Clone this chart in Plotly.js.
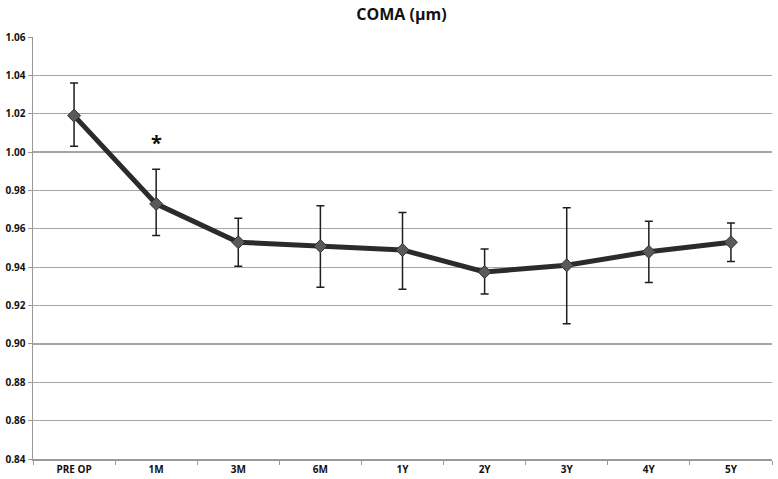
<!DOCTYPE html>
<html>
<head>
<meta charset="utf-8">
<script src="https://cdn.plot.ly/plotly-3.0.1.min.js"></script>
<style>html,body{margin:0;padding:0;background:#fff;}</style>
</head>
<body>
<div id="chart" style="width:778px;height:479px;"></div>
<script>
const categories = ["PRE OP", "1M", "3M", "6M", "1Y", "2Y", "3Y", "4Y", "5Y"];
const meanValues = [1.019, 0.973, 0.953, 0.951, 0.949, 0.9375, 0.941, 0.948, 0.953];
const upperValues = [1.036, 0.991, 0.9655, 0.972, 0.9685, 0.9495, 0.971, 0.964, 0.963];
const lowerValues = [1.003, 0.9565, 0.9405, 0.9295, 0.9285, 0.926, 0.9105, 0.932, 0.943];
const yTicks = [0.84, 0.86, 0.88, 0.90, 0.92, 0.94, 0.96, 0.98, 1.00, 1.02, 1.04, 1.06];

const errPlus = meanValues.map((m, i) => +(upperValues[i] - m).toFixed(4));
const errMinus = meanValues.map((m, i) => +(m - lowerValues[i]).toFixed(4));

const font = "'Open Sans', 'Liberation Sans', sans-serif";

const trace = {
  x: categories,
  y: meanValues,
  type: "scatter",
  mode: "lines+markers",
  line: {color: "#2b2b2b", width: 5},
  marker: {symbol: "diamond", size: 10, color: "#5a5a5a", line: {color: "#333", width: 1}},
  error_y: {type: "data", symmetric: false, array: errPlus, arrayminus: errMinus,
            color: "#1e1e1e", thickness: 1.5, width: 4},
  showlegend: false,
  hoverinfo: "x+y"
};

const layout = {
  width: 778, height: 479,
  margin: {l: 33, r: 6, t: 37, b: 20},
  paper_bgcolor: "#fff", plot_bgcolor: "#fff",
  title: {text: "<b>COMA (µm)</b>", x: 0.516, xanchor: "center", y: 0.97, yanchor: "middle",
          font: {family: font, size: 16, color: "#111"}},
  xaxis: {
    type: "category", categoryorder: "array", categoryarray: categories,
    range: [-0.5, 8.5],
    showgrid: false, zeroline: false,
    showline: true, linecolor: "#9a9a9a", linewidth: 1.5,
    ticks: "outside", tickson: "boundaries", ticklen: 4, tickcolor: "#9a9a9a",
    tickfont: {family: font, size: 10, color: "#111", weight: "bold"}
  },
  yaxis: {
    range: [0.84, 1.06],
    tickvals: yTicks, ticktext: yTicks.map(v => v.toFixed(2)),
    showgrid: true, gridcolor: "#a5a5a5", gridwidth: 1.2,
    zeroline: false,
    showline: true, linecolor: "#9a9a9a", linewidth: 1.5,
    ticks: "outside", ticklen: 4, tickcolor: "#9a9a9a",
    tickfont: {family: font, size: 10, color: "#111", weight: "bold"}
  },
  annotations: [{
    x: "1M", y: 1.005, xref: "x", yref: "y", text: "<b>*</b>", showarrow: false,
    font: {family: font, size: 20, color: "#111"}
  }]
};

Plotly.newPlot("chart", [trace], layout, {displayModeBar: false, staticPlot: true});
</script>
</body>
</html>
